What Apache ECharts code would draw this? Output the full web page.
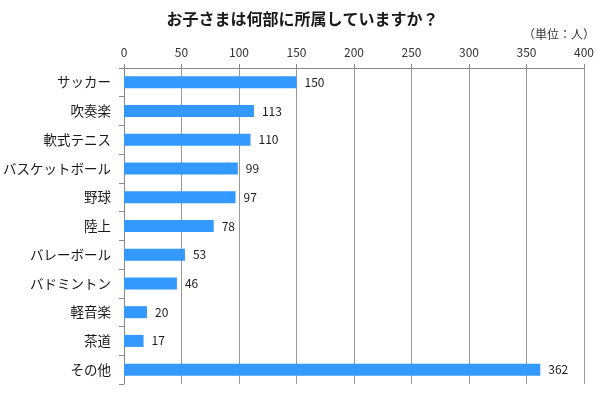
<!DOCTYPE html>
<html><head><meta charset="utf-8">
<script src="https://cdn.jsdelivr.net/npm/echarts@6/dist/echarts.min.js"></script>
<style>html,body{margin:0;padding:0;background:#fff}#c{width:605px;height:393px}</style>
</head><body><div id="c"></div>
<script>
const categories = ['サッカー','吹奏楽','軟式テニス','バスケットボール','野球','陸上','バレーボール','バドミントン','軽音楽','茶道','その他'];
const values = [150,113,110,99,97,78,53,46,20,17,362];
const font = '"Noto Sans CJK JP", "Noto Sans", sans-serif';
const chart = echarts.init(document.getElementById('c'));
chart.setOption({
  animation: false,
  textStyle: {fontFamily: font},
  title: [
    {text: 'お子さまは何部に所属していますか？', left: 'center', top: 6,
     textStyle: {fontSize: 16, fontWeight: 'bold', color: '#1a1a1a', fontFamily: font}},
    {text: '（単位：人）', right: 5, top: 23,
     textStyle: {fontSize: 12, fontWeight: 'normal', color: '#333', fontFamily: font}}
  ],
  grid: {left: 121, right: 21, top: 68, bottom: 9, containLabel: false},
  xAxis: {
    type: 'value', position: 'top', min: 0, max: 400, interval: 50,
    axisLine: {show: true, lineStyle: {color: '#888'}},
    axisTick: {show: true, length: 4, lineStyle: {color: '#888'}},
    axisLabel: {color: '#333', fontSize: 12, margin: 10, fontFamily: font},
    splitLine: {show: true, lineStyle: {color: '#999'}}
  },
  yAxis: {
    type: 'category', data: categories, inverse: true,
    axisLine: {show: true, lineStyle: {color: '#888'}},
    axisTick: {show: true, length: 5, alignWithLabel: false, lineStyle: {color: '#888'}},
    axisLabel: {color: '#1a1a1a', fontSize: 13.5, margin: 13, fontFamily: font}
  },
  series: [{
    type: 'bar', data: values, barWidth: 12,
    itemStyle: {color: '#3399FF'},
    label: {show: true, position: 'right', distance: 8, color: '#1a1a1a', fontSize: 12, fontFamily: font}
  }]
});
</script></body></html>
